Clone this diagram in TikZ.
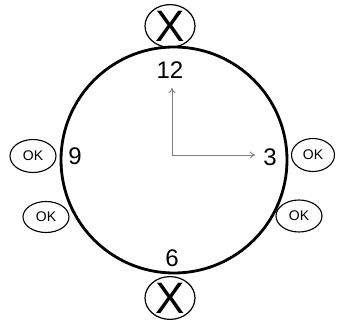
\documentclass[tikz,border=0pt]{standalone}
\usepackage{fontspec}
\setmainfont{Liberation Sans}
\usetikzlibrary{arrows.meta,positioning,shapes.geometric}

\begin{document}
\begin{tikzpicture}[
  x=1pt,y=-1pt,
  dial/.style={draw,circle,line width=2.8pt,minimum size=226pt,inner sep=0pt},
  hour/.style={font=\fontsize{24}{24}\selectfont,inner sep=0pt},
  okbubble/.style={draw,ellipse,line width=1.1pt,minimum width=46pt,minimum height=33pt,
    inner sep=0pt,font=\fontsize{14}{14}\selectfont},
  xbubble/.style={draw,ellipse,line width=1.2pt,minimum width=50pt,minimum height=38pt,
    inner sep=0pt,font=\fontsize{44}{44}\selectfont},
  hand/.style={-{To[length=5pt,width=7pt]},draw=gray,line width=0.9pt}
]
  \useasboundingbox (0,0) rectangle (339,320);
  \node[dial] (clock) at (174,160) {};
  % hour marks
  \node[hour] (h12) at (170,70) {12};
  \node[hour] (h3) at (270,157) {3};
  \node[hour] (h6) at (172,258) {6};
  \node[hour] (h9) at (75,156) {9};
  % hands
  \coordinate (hub) at (172,155);
  \coordinate (up) at (172,88);
  \coordinate (right) at (255,155);
  \draw[hand] (hub) -- (up);
  \draw[hand] (hub) -- (right);
  % bubbles
  \node[xbubble] (top) at (170,26) {X};
  \node[xbubble] (bottom) at (170,298) {X};
  \node[okbubble] (okleft) at (33,156) {OK};
  \node[okbubble,minimum height=31pt] (okleftlow) at (46,217) {OK};
  \node[okbubble,minimum width=43pt] (okright) at (313,155) {OK};
  \node[okbubble,minimum height=32pt] (okrightlow) at (299,216) {OK};
\end{tikzpicture}
\end{document}
